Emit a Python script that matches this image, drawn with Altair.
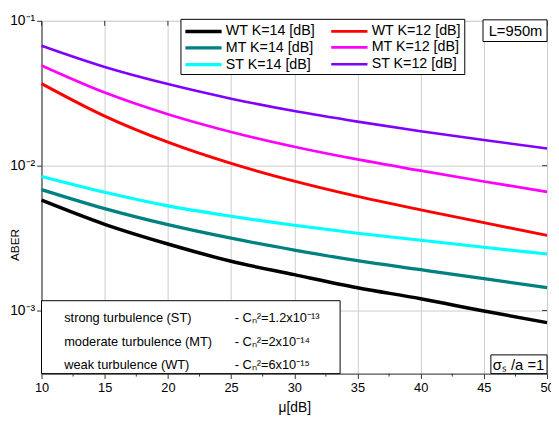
import altair as alt
import pandas as pd

# ---- data ----
mu = [10, 15, 20, 25, 30, 35, 40, 45, 50]
series_names = ["WT K=14 [dB]", "WT K=12 [dB]", "MT K=14 [dB]", "MT K=12 [dB]",
                "ST  K=14 [dB]", "ST  K=12 [dB]"]
# legend fills column by column: left column K=14, right column K=12
legend_order = ["WT K=14 [dB]", "MT K=14 [dB]", "ST  K=14 [dB]",
                "WT K=12 [dB]", "MT K=12 [dB]", "ST  K=12 [dB]"]
legend_colors = ["#000000", "#008080", "#00ffff", "#ff0000", "#ff00ff", "#8000ff"]
legend_widths = [3.5, 2.6, 2.0, 3.5, 2.6, 2.0]

wt14 = [0.005779, 0.003937, 0.002879, 0.002188, 0.001769, 0.001438, 0.001207, 0.000992, 0.000825]
wt12 = [0.03687, 0.02199, 0.01452, 0.01036, 0.007816, 0.006134, 0.004957, 0.004045, 0.003304]
mt14 = [0.006836, 0.005052, 0.003914, 0.003157, 0.002617, 0.002209, 0.001913, 0.001658, 0.001440]
mt12 = [0.04917, 0.03197, 0.02265, 0.01709, 0.01351, 0.01104, 0.009247, 0.007780, 0.006604]
st14 = [0.008416, 0.006552, 0.005279, 0.004477, 0.003877, 0.003420, 0.003055, 0.002733, 0.002454]
st12 = [0.06728, 0.04803, 0.03658, 0.02902, 0.02381, 0.02014, 0.01730, 0.01503, 0.01315]
all_series = [wt14, wt12, mt14, mt12, st14, st12]

x_ticks = [10, 15, 20, 25, 30, 35, 40, 45, 50]
x_minor = [12.5, 17.5, 22.5, 27.5, 32.5, 37.5, 42.5, 47.5]
y_ticks = [0.001, 0.01, 0.1]

turb_names = ["strong turbulence (ST)", "moderate turbulence (MT)", "weak turbulence (WT)"]
turb_cn2 = ["- Cₙ²=1.2x10⁻¹³", "- Cₙ²=2x10⁻¹⁴", "- Cₙ²=6x10⁻¹⁵"]

rows = []
for name, vals in zip(series_names, all_series):
    for m, v in zip(mu, vals):
        rows.append({"mu": m, "aber": v, "series": name})
df = pd.DataFrame(rows)

FONT = "Liberation Sans"
W, H = 513, 358

xscale = alt.Scale(domain=[10, 50], nice=False, zero=False)
yscale = alt.Scale(type="log", domain=[3.67e-4, 0.1], nice=False)

lines = alt.Chart(df).mark_line(interpolate="monotone").encode(
    x=alt.X("mu:Q", scale=xscale,
            axis=alt.Axis(values=x_ticks, title="μ[dB]", grid=True, gridColor="#cccccc",
                          labelFontSize=13, titleFontSize=14, titleFontWeight="normal",
                          titlePadding=6, tickSize=5, labelPadding=3, tickColor="#333333",
                          domainColor="#333333", labelFont=FONT, titleFont=FONT,
                          labelFlush=False)),
    y=alt.Y("aber:Q", scale=yscale,
            axis=alt.Axis(values=y_ticks, title="ABER", grid=True, gridColor="#cccccc",
                          labelExpr="datum.value >= 0.09 ? '10⁻¹' : (datum.value >= 0.009 ? '10⁻²' : '10⁻³')",
                          labelFontSize=14, titleFontSize=12, titleFontWeight="normal",
                          titleX=-27, titleY=227, titleBaseline="middle", titleAngle=270,
                          tickSize=5, labelPadding=2,
                          tickColor="#333333", domainColor="#333333",
                          labelFont=FONT, titleFont=FONT)),
    color=alt.Color("series:N", sort=legend_order,
                    scale=alt.Scale(domain=legend_order, range=legend_colors),
                    legend=alt.Legend(title=None, orient="none", legendX=141, legendY=-2,
                                      columns=2, symbolType="M-1,0H3.9",
                                      symbolSize=225, labelFontSize=14.5, labelFont=FONT,
                                      strokeColor="black", fillColor="white", padding=3,
                                      columnPadding=10, rowPadding=0, labelOffset=24,
                                      labelLimit=250)),
    strokeWidth=alt.StrokeWidth("series:N", sort=legend_order,
                                scale=alt.Scale(domain=legend_order, range=legend_widths)),
)

# top inward ticks, bottom minor ticks, right inward ticks
top_ticks = alt.Chart(pd.DataFrame({"t": x_ticks})).mark_rule(color="#333333").encode(
    x=alt.X("t:Q"), y=alt.value(0), y2=alt.value(5))
bot_minor = alt.Chart(pd.DataFrame({"t": x_minor})).mark_rule(color="#333333").encode(
    x=alt.X("t:Q"), y=alt.value(H), y2=alt.value(H + 3))
right_ticks = alt.Chart(pd.DataFrame({"v": y_ticks})).mark_rule(color="#333333").encode(
    y=alt.Y("v:Q", scale=yscale, axis=None), x=alt.value(W - 5), x2=alt.value(W))

one = pd.DataFrame({"k": [0]})
# L=950m box
l_box = alt.Chart(one).mark_rect(fill="white", stroke="black", strokeWidth=1).encode(
    x=alt.value(448), x2=alt.value(W), y=alt.value(-1), y2=alt.value(21))
l_txt = alt.Chart(one).mark_text(font=FONT, fontSize=15, align="center", baseline="middle").encode(
    x=alt.value(481), y=alt.value(10.5), text=alt.value("L=950m"))

# sigma box
s_box = alt.Chart(one).mark_rect(fill="white", stroke="black", strokeWidth=1).encode(
    x=alt.value(456), x2=alt.value(W), y=alt.value(339), y2=alt.value(H))
s_txt = alt.Chart(one).mark_text(font=FONT, fontSize=15, align="center", baseline="middle").encode(
    x=alt.value(484), y=alt.value(349), text=alt.value("σₛ /a =1"))

# turbulence box
t_box = alt.Chart(one).mark_rect(fill="white", stroke="black", strokeWidth=1).encode(
    x=alt.value(0), x2=alt.value(303), y=alt.value(284), y2=alt.value(H))
tdf = pd.DataFrame({"name": turb_names, "cn2": turb_cn2, "i": [0, 1, 2]})
row_y = alt.Y("i:Q", scale=alt.Scale(domain=[0, 2], range=[302, 349]), axis=None)
t_names = alt.Chart(tdf).mark_text(font=FONT, fontSize=13, align="left", baseline="middle").encode(
    x=alt.value(23), y=row_y, text="name:N")
t_cn2 = alt.Chart(tdf).mark_text(font=FONT, fontSize=13, align="left", baseline="middle").encode(
    x=alt.value(196), y=row_y, text="cn2:N")

chart = alt.layer(lines, top_ticks, bot_minor, right_ticks, l_box, l_txt, s_box, s_txt,
                  t_box, t_names, t_cn2).resolve_scale(y="independent").properties(
    width=W, height=H,
    autosize=alt.AutoSizeParams(type="none"),
    padding={"left": 34, "top": 10, "right": 4, "bottom": 40},
).configure_view(stroke="#333333", strokeWidth=1.5).configure(font=FONT)

chart.save("out.html", embed_options={"renderer": "svg", "actions": False})
